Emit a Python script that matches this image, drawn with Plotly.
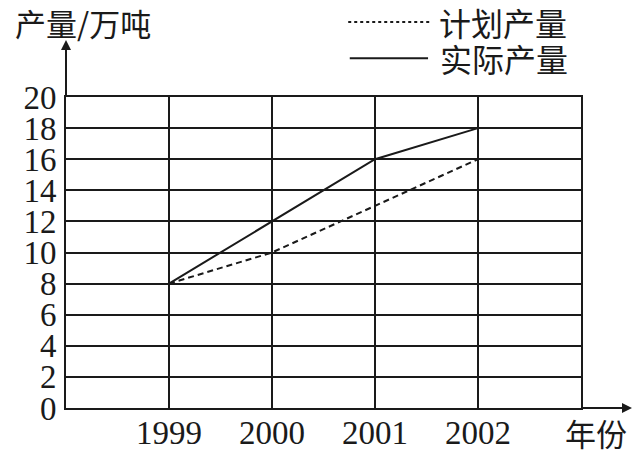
import plotly.graph_objects as go

# data
years = [1999, 2000, 2001, 2002]
planned = [8, 10, 13, 16]  # 计划产量
actual = [8, 12, 16, 18]  # 实际产量
y_ticks = list(range(0, 21, 2))

INK = "#1a1a1a"
SERIF = "Times New Roman, Liberation Serif, Tinos, DejaVu Serif, serif"
CJK = "Noto Sans CJK SC"

fig = go.Figure()

fig.add_trace(
    go.Scatter(
        x=years,
        y=planned,
        mode="lines",
        line=dict(color=INK, width=2, dash="6px,4px"),
        showlegend=False,
    )
)
fig.add_trace(
    go.Scatter(
        x=years,
        y=actual,
        mode="lines",
        line=dict(color=INK, width=2),
        showlegend=False,
    )
)

fig.update_xaxes(
    range=[years[0] - 1, years[-1] + 1],
    tickvals=years,
    ticktext=[str(y) for y in years],
    showgrid=True,
    gridcolor=INK,
    gridwidth=2,
    showline=True,
    linecolor=INK,
    linewidth=2,
    mirror=True,
    zeroline=False,
    ticks="",
    automargin=False,
    ticklabelstandoff=-6,
    tickfont=dict(family=SERIF, size=33, color=INK),
)
fig.update_yaxes(
    range=[0, 20],
    tickvals=y_ticks,
    showgrid=True,
    gridcolor=INK,
    gridwidth=2,
    showline=True,
    linecolor=INK,
    linewidth=2,
    mirror=True,
    zeroline=False,
    ticks="",
    automargin=False,
    ticklabelstandoff=1,
    tickfont=dict(family=SERIF, size=33, color=INK),
)

# axis arrows
fig.add_annotation(
    x=1.099, y=0, xref="paper", yref="paper",
    ax=-51, ay=0, axref="pixel", ayref="pixel",
    showarrow=True, arrowhead=2, arrowsize=1, arrowwidth=2, arrowcolor=INK, text="",
)
fig.add_annotation(
    x=0, y=1.183, xref="paper", yref="paper",
    ax=0, ay=57, axref="pixel", ayref="pixel",
    showarrow=True, arrowhead=2, arrowsize=1, arrowwidth=2, arrowcolor=INK, text="",
)

# axis titles
fig.add_annotation(
    x=-0.103, y=1.241, xref="paper", yref="paper", xanchor="left", yanchor="middle",
    text="产量/万吨", showarrow=False, font=dict(family=CJK, size=31, color=INK),
)
fig.add_annotation(
    x=1.030, y=-0.080, xref="paper", yref="paper", xanchor="center", yanchor="middle",
    text="年份", showarrow=False, font=dict(family=CJK, size=31, color=INK),
)

# hand-made legend
fig.add_shape(
    type="line", xref="paper", yref="paper", x0=0.548, x1=0.711, y0=1.241, y1=1.241,
    line=dict(color=INK, width=2, dash="3px,3px"),
)
fig.add_annotation(
    x=0.720, y=1.241, xref="paper", yref="paper", xanchor="left", yanchor="middle",
    text="计划产量", showarrow=False, font=dict(family=CJK, size=32, color=INK),
)
fig.add_shape(
    type="line", xref="paper", yref="paper", x0=0.551, x1=0.703, y0=1.125, y1=1.125,
    line=dict(color=INK, width=2),
)
fig.add_annotation(
    x=0.722, y=1.125, xref="paper", yref="paper", xanchor="left", yanchor="middle",
    text="实际产量", showarrow=False, font=dict(family=CJK, size=32, color=INK),
)

# page body keeps an 8px margin, so the margins are shifted to compensate
fig.update_layout(
    width=640,
    height=453,
    margin=dict(l=58, r=67, t=89, b=53),
    paper_bgcolor="white",
    plot_bgcolor="white",
    showlegend=False,
)

fig.write_html("out.html")
